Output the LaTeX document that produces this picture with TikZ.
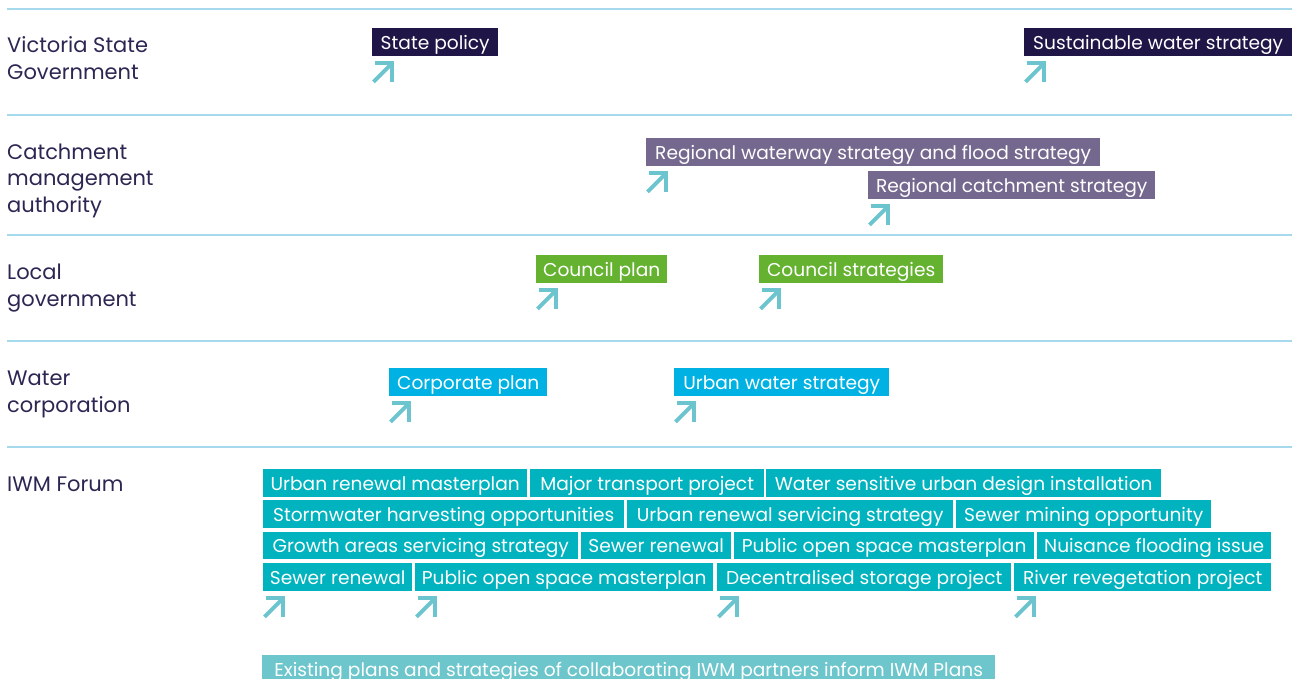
\documentclass[tikz,border=0pt]{standalone}
\usepackage{fontspec}
\setmainfont{Poppins}
\definecolor{navy}{HTML}{201547}
\definecolor{labeltext}{HTML}{2B2652}
\definecolor{rule}{HTML}{A6D9EC}
\definecolor{cmapurple}{HTML}{75688F}
\definecolor{lggreen}{HTML}{64B22F}
\definecolor{wcblue}{HTML}{00B2E3}
\definecolor{iwmteal}{HTML}{00B3BE}
\definecolor{lightteal}{HTML}{6CC6CC}
\definecolor{arrowteal}{HTML}{6CC5CE}
\begin{document}
\begin{tikzpicture}[x=1pt,y=-1pt,
  rowlabel/.style={anchor=base west, align=left, inner sep=0pt, text=labeltext,
    font=\fontsize{21}{27}\selectfont},
  tag/.style={anchor=north west, minimum height=27.5pt, inner xsep=0pt, inner ysep=0pt,
    text height=16.5pt, text depth=2pt, text=white, font=\fontsize{18.6}{22}\selectfont},
  vsg/.style={tag, fill=navy},
  cma/.style={tag, fill=cmapurple},
  lg/.style={tag, fill=lggreen},
  wc/.style={tag, fill=wcblue},
  iwm/.style={tag, fill=iwmteal},
  note/.style={tag, fill=lightteal},
  divider/.style={draw=rule, line width=1.3pt},
  pics/upright/.style={code={
    \draw[arrowteal, line width=4pt, line join=miter] (1.5,26) -- (18.5,9);
    \draw[arrowteal, line width=4pt, line join=miter] (2.5,7) -- (19.5,7) -- (19.5,26.5);
  }}
]
\path[use as bounding box, clip] (0,0) rectangle (1298,679);

% dividers
\coordinate (l1a) at (7,9);   \coordinate (l1b) at (1292,9);
\coordinate (l2a) at (7,115); \coordinate (l2b) at (1292,115);
\coordinate (l3a) at (7,235); \coordinate (l3b) at (1292,235);
\coordinate (l4a) at (7,341); \coordinate (l4b) at (1292,341);
\coordinate (l5a) at (7,447); \coordinate (l5b) at (1292,447);
\draw[divider] (l1a) -- (l1b);
\draw[divider] (l2a) -- (l2b);
\draw[divider] (l3a) -- (l3b);
\draw[divider] (l4a) -- (l4b);
\draw[divider] (l5a) -- (l5b);

% row labels (anchored at the baseline of their last line)
\node[rowlabel] (lblvsg) at (7,80) {Victoria State\\Government};
\node[rowlabel] (lblcma) at (7,213) {Catchment\\management\\authority};
\node[rowlabel] (lbllg) at (7,306) {Local\\government};
\node[rowlabel] (lblwc) at (7,412) {Water\\corporation};
\node[rowlabel] (lbliwm) at (7,491) {IWM Forum};

% Victoria State Government
\node[vsg, minimum width=126pt] (statepolicy) at (372,28) {State policy};
\node[vsg, minimum width=268pt] (sustainable) at (1024,28) {Sustainable water strategy};
\path (statepolicy.south west) pic {upright};
\path (sustainable.south west) pic {upright};

% Catchment management authority
\node[cma, minimum width=454pt] (waterway) at (646,138) {Regional waterway strategy and flood strategy};
\node[cma, minimum width=287pt] (catchment) at (868,171) {Regional catchment strategy};
\path (waterway.south west) pic {upright};
\path (catchment.south west) pic {upright};

% Local government
\node[lg, minimum width=131pt] (councilplan) at (536,255) {Council plan};
\node[lg, minimum width=184pt] (councilstrat) at (759,255) {Council strategies};
\path (councilplan.south west) pic {upright};
\path (councilstrat.south west) pic {upright};

% Water corporation
\node[wc, minimum width=158pt] (corporate) at (389,368) {Corporate plan};
\node[wc, minimum width=215pt] (urbanwater) at (674,368) {Urban water strategy};
\path (corporate.south west) pic {upright};
\path (urbanwater.south west) pic {upright};

% IWM Forum
\node[iwm, minimum width=264pt] (a1) at (263,469) {Urban renewal masterplan};
\node[iwm, minimum width=234pt] (a2) at (530,469) {Major transport project};
\node[iwm, minimum width=395pt] (a3) at (766,469) {Water sensitive urban design installation};

\node[iwm, minimum width=361pt] (b1) at (263,500) {Stormwater harvesting opportunities};
\node[iwm, minimum width=326pt] (b2) at (627,500) {Urban renewal servicing strategy};
\node[iwm, minimum width=255pt] (b3) at (956,500) {Sewer mining opportunity};

\node[iwm, minimum width=315pt] (c1) at (263,531.5) {Growth areas servicing strategy};
\node[iwm, minimum width=150pt] (c2) at (581,531.5) {Sewer renewal};
\node[iwm, minimum width=300pt] (c3) at (734,531.5) {Public open space masterplan};
\node[iwm, minimum width=234pt] (c4) at (1037,531.5) {Nuisance flooding issue};

\node[iwm, minimum width=149pt] (d1) at (263,563) {Sewer renewal};
\node[iwm, minimum width=298pt] (d2) at (415,563) {Public open space masterplan};
\node[iwm, minimum width=294pt] (d3) at (717,563) {Decentralised storage project};
\node[iwm, minimum width=257pt] (d4) at (1014,563) {River revegetation project};
\path (d1.south west) pic {upright};
\path (d2.south west) pic {upright};
\path (d3.south west) pic {upright};
\path (d4.south west) pic {upright};

\node[note, minimum width=733pt] (existing) at (262,655) {Existing plans and strategies of collaborating IWM partners inform IWM Plans};
\end{tikzpicture}
\end{document}
